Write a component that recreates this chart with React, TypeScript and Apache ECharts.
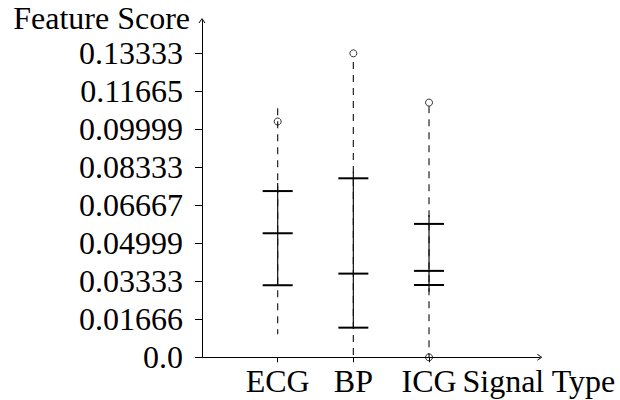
import React, { useEffect, useRef } from 'react';
import * as echarts from 'echarts';

// ---- data ----
const categories = ['ECG', 'BP', 'ICG'];
const whiskerLow = [0.0101, 0.0, 0.0];
const solidBottom = [0.0316, 0.013, 0.0288];
const q1 = [0.0316, 0.013, 0.0317];
const median = [0.0544, 0.0367, 0.0379];
const q3 = [0.0729, 0.0785, 0.0585];
const solidTop = [0.0764, 0.0814, 0.0624];
const whiskerHigh = [0.1092, 0.1295, 0.1101];
const outlierCategory = ['ECG', 'BP', 'ICG', 'ICG'];
const outlierValues = [0.1034, 0.1333, 0.1117, 0.0];
const yTickLabels = ['0.0', '0.01666', '0.03333', '0.04999', '0.06667', '0.08333', '0.09999', '0.11665', '0.13333'];
const xTitle = 'Signal Type';
const yTitle = 'Feature Score';

const FONT = 'Liberation Serif, Times New Roman, serif';
const FS = 32;
const ARROW = 'path://M0,7 L5,0 L10,7 L8.6,7 L5,2 L1.4,7 Z';

export default function App() {
  const ref = useRef<HTMLDivElement>(null);
  useEffect(() => {
    if (!ref.current) return;
    const chart = echarts.init(ref.current, null, { renderer: 'svg' });
    const boxData = categories.map((c, i) => [
      i + 1,
      whiskerLow[i],
      solidBottom[i],
      q1[i],
      median[i],
      q3[i],
      solidTop[i],
      whiskerHigh[i],
    ]);
    const yTickValues = yTickLabels.map(Number);
    const yFmt = (v: number) => {
      let best = 0;
      yTickValues.forEach((t, i) => {
        if (Math.abs(t - v) < Math.abs(yTickValues[best] - v)) best = i;
      });
      return yTickLabels[best];
    };
    chart.setOption({
      animation: false,
      grid: { left: 202, top: 20.5, right: 80.2, bottom: 42.7, containLabel: false },
      xAxis: {
        type: 'value',
        min: 0,
        max: 4.464,
        name: xTitle,
        nameLocation: 'end',
        nameGap: -93,
        nameTextStyle: {
          fontFamily: FONT,
          fontSize: FS,
          color: '#000',
          align: 'left',
          verticalAlign: 'top',
          padding: [8, 0, 0, 0],
        },
        axisLine: {
          show: true,
          onZero: false,
          symbol: ['none', ARROW],
          symbolSize: [7, 5],
          lineStyle: { color: '#000', width: 1 },
        },
        axisTick: { show: true, length: 5, customValues: [1, 2, 3], lineStyle: { color: '#000' } },
        axisLabel: {
          customValues: [1, 2, 3],
          formatter: (v: number) => categories[Math.round(v) - 1] ?? '',
          fontFamily: FONT,
          fontSize: FS,
          color: '#000',
          margin: 8,
        },
        splitLine: { show: false },
      },
      yAxis: {
        type: 'value',
        min: 0,
        max: 0.1477,
        name: yTitle,
        nameLocation: 'end',
        nameGap: 2.5,
        nameTextStyle: {
          fontFamily: FONT,
          fontSize: FS,
          color: '#000',
          align: 'right',
          verticalAlign: 'middle',
          padding: [0, 12, 0, 0],
        },
        axisLine: {
          show: true,
          onZero: false,
          symbol: ['none', ARROW],
          symbolSize: [7, 5],
          lineStyle: { color: '#000', width: 1 },
        },
        axisTick: { show: true, length: 7, customValues: yTickValues, lineStyle: { color: '#000' } },
        axisLabel: {
          customValues: yTickValues,
          formatter: yFmt,
          fontFamily: FONT,
          fontSize: FS,
          color: '#000',
          margin: 19,
        },
        splitLine: { show: false },
      },
      series: [
        {
          type: 'custom',
          data: boxData,
          z: 3,
          renderItem: (params: any, api: any) => {
            const x = api.value(0);
            const p = (v: number) => api.coord([x, v]);
            const [cx, yLow] = p(api.value(1));
            const ySB = p(api.value(2))[1];
            const yQ1 = p(api.value(3))[1];
            const yMed = p(api.value(4))[1];
            const yQ3 = p(api.value(5))[1];
            const yST = p(api.value(6))[1];
            const yHigh = p(api.value(7))[1];
            const hw = 15;
            const cap = (y: number) => ({
              type: 'line',
              shape: { x1: cx - hw, y1: y, x2: cx + hw, y2: y },
              style: { stroke: '#000', lineWidth: 2 },
            });
            return {
              type: 'group',
              children: [
                {
                  type: 'line',
                  shape: { x1: cx, y1: yHigh, x2: cx, y2: yLow },
                  style: { stroke: '#222', lineWidth: 1.2, lineDash: [7, 6] },
                },
                {
                  type: 'line',
                  shape: { x1: cx, y1: ySB, x2: cx, y2: yST },
                  style: { stroke: '#111', lineWidth: 1.2 },
                },
                cap(yQ1),
                cap(yMed),
                cap(yQ3),
              ],
            };
          },
        },
        {
          type: 'scatter',
          z: 4,
          symbol: 'circle',
          symbolSize: 7,
          itemStyle: { color: 'rgba(0,0,0,0)', borderColor: '#000', borderWidth: 1 },
          data: outlierCategory.map((c, i) => [categories.indexOf(c) + 1, outlierValues[i]]),
        },
      ],
    });
    return () => chart.dispose();
  }, []);
  return (
    <div
      ref={ref}
      style={{ position: 'fixed', left: 0, top: 0, width: 620, height: 400, background: '#fff' }}
    />
  );
}
